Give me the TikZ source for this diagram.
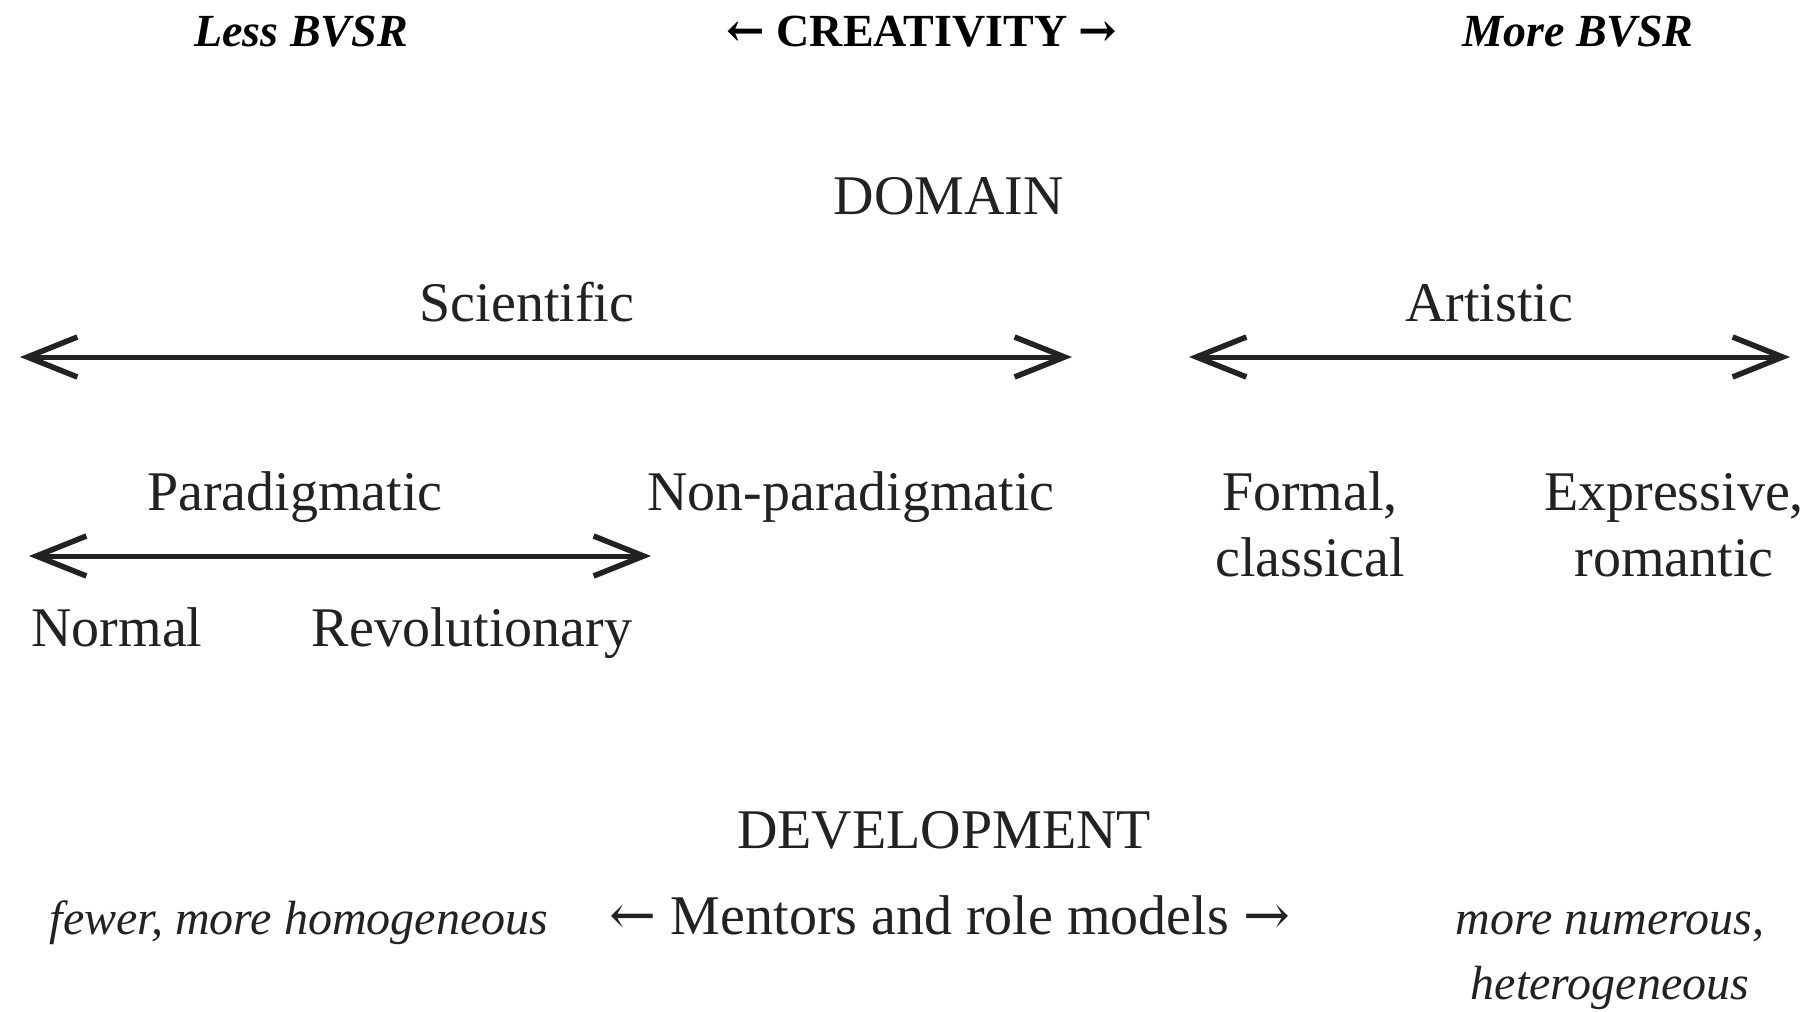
\documentclass[tikz,border=0pt]{standalone}
\usepackage{fontspec}
\setmainfont{Liberation Serif}
\newfontfamily\arrfont{DejaVu Serif}
\newcommand{\lar}{{\arrfont ←}}
\newcommand{\rar}{{\arrfont →}}
\usetikzlibrary{arrows.meta}
\definecolor{ink}{HTML}{222222}
\tikzset{
  lbl/.style={font=\fontsize{56}{66}\selectfont, text=ink, inner sep=0pt, anchor=base, align=center},
  ital/.style={font=\fontsize{48}{65}\selectfont\itshape, text=ink, inner sep=0pt, anchor=base, align=center},
  hdr/.style={font=\fontsize{46}{50}\selectfont\bfseries\itshape, text=black, inner sep=0pt, anchor=base},
  hdrup/.style={font=\fontsize{46}{50}\selectfont\bfseries, text=black, inner sep=0pt, anchor=base},
  dbl/.style={draw=ink, line width=5pt,
    {Straight Barb[length=50pt,width=40pt,line width=5.5pt]}-{Straight Barb[length=50pt,width=40pt,line width=5.5pt]}}
}
\begin{document}
\begin{tikzpicture}[x=1pt,y=-1pt]
\useasboundingbox[fill=white] (0,0) rectangle (1813,1012);

% header
\node[hdr]   (less) at (301,46)  {Less BVSR};
\node[hdrup] (crea) at (922,46)  {\lar\ CREATIVITY \rar};
\node[hdr]   (more) at (1578,46) {More BVSR};

% domain
\node[lbl] (domain) at (949,214) {DOMAIN};
\node[lbl] (sci) at (527,321)  {Scientific};
\node[lbl] (art) at (1489,321) {Artistic};

\coordinate (sciL) at (20,357);
\coordinate (sciR) at (1072,357);
\draw[dbl] (sciL) -- (sciR);
\coordinate (artL) at (1189,357);
\coordinate (artR) at (1790,357);
\draw[dbl] (artL) -- (artR);

% two-line labels are placed by the baseline of their last line
\node[lbl] (para)    at (295,510) {Paradigmatic};
\node[lbl] (nonpara) at (851,510) {Non-paradigmatic};
\node[lbl] (formal)  at (1310,576) {Formal,\\classical};
\node[lbl] (expr)    at (1674,576) {Expressive,\\romantic};

\coordinate (parL) at (29,556);
\coordinate (parR) at (651,556);
\draw[dbl] (parL) -- (parR);

\node[lbl] (normal) at (117,646) {Normal};
\node[lbl] (revol)  at (472,646) {Revolutionary};

% development
\node[lbl]  (devel)   at (944,848) {DEVELOPMENT};
\node[ital] (fewer)   at (299,934) {fewer, more homogeneous};
\node[lbl]  (mentors) at (950,934) {\lar\ Mentors and role models \rar};
\node[ital] (numer)   at (1610,999) {more numerous,\\heterogeneous};
\end{tikzpicture}
\end{document}
